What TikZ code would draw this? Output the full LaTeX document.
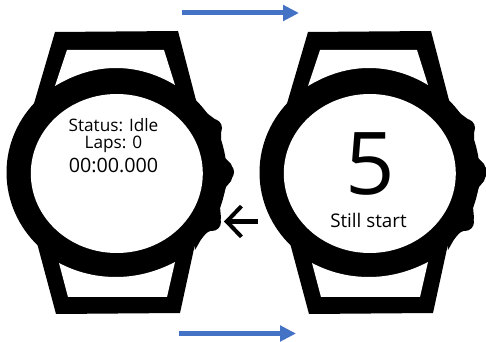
\documentclass[tikz,border=0pt]{standalone}
\usepackage{fontspec}
\setmainfont{Open Sans}
\usetikzlibrary{arrows.meta}
\tikzset{
  x=0.75pt,y=-0.75pt,
  body/.style={fill=black,draw=none},
  hole/.style={fill=white,draw=none},
  bluearrow/.style={draw={rgb,255:red,68;green,114;blue,196},line width=3.75pt,-{Triangle[length=12pt,width=11.5pt]}},
  blackarrow/.style={draw=black,line width=3.6pt,-{Straight Barb[length=11pt,width=23pt,line width=3pt]}},
  label/.style={inner sep=0pt,anchor=base,text=black,font=\fontsize{12.9pt}{14pt}\selectfont}
}
\newcommand{\watch}[1]{%
  \begin{scope}[shift={(#1,0)}]
    \fill[body] (55,32) -- (178,31) -- (197,104) -- (33,107) -- cycle;
    \fill[body] (37,243) -- (195,244) -- (180,313) -- (56,314) -- cycle;
    \fill[body] (116.5,172.5) ellipse [x radius=110,y radius=104.5];
    \fill[body] (197,104) -- (208,114) -- (216,120) -- (221,127) -- (221,140) -- (225,158) -- (231,164) -- (234,172) -- (231,181) -- (226,187) -- (220,207) -- (221,218) -- (218,228) -- (208,232) -- (203,236) -- (195,250) -- (185,172) -- cycle;
    \fill[body] (213,128) circle [radius=9];
    \fill[body] (225,172) circle [radius=9];
    \fill[body] (212,222) circle [radius=9];
    \fill[hole] (67,50) -- (164,50) -- (175,85) .. controls (155,73) and (135,68) .. (116,68) .. controls (95,68) and (75,74) .. (55,86) -- cycle;
    \fill[hole] (59,263) .. controls (78,273) and (97,277) .. (116,277) .. controls (136,277) and (156,272) .. (175,262) -- (167,297) -- (68,297) -- cycle;
    \fill[hole] (116.8,173.5) ellipse [x radius=86,y radius=79.5];
  \end{scope}}
\begin{document}
\begin{tikzpicture}
\useasboundingbox (0,0) rectangle (486,342);
\watch{0}
\watch{253}
\coordinate (a1) at (182,13);
\coordinate (a2) at (299,13);
\coordinate (b1) at (179,333.5);
\coordinate (b2) at (296,333.5);
\coordinate (c1) at (258,221.5);
\coordinate (c2) at (224,221.5);
\draw[bluearrow] (a1) -- (a2);
\draw[bluearrow] (b1) -- (b2);
\draw[blackarrow] (c1) -- (c2);
\node[label] (status) at (113.5,132) {Status: Idle};
\node[label] (laps) at (113.5,149) {Laps: 0};
\node[label,font=\fontsize{14.8pt}{16pt}\selectfont] (time) at (113.5,173) {00:00.000};
\node[label,font=\fontsize{65pt}{65pt}\selectfont] (five) at (370,195) {5};
\node[label,font=\fontsize{14.1pt}{16pt}\selectfont] (still) at (368.5,228) {Still start};
\end{tikzpicture}
\end{document}
